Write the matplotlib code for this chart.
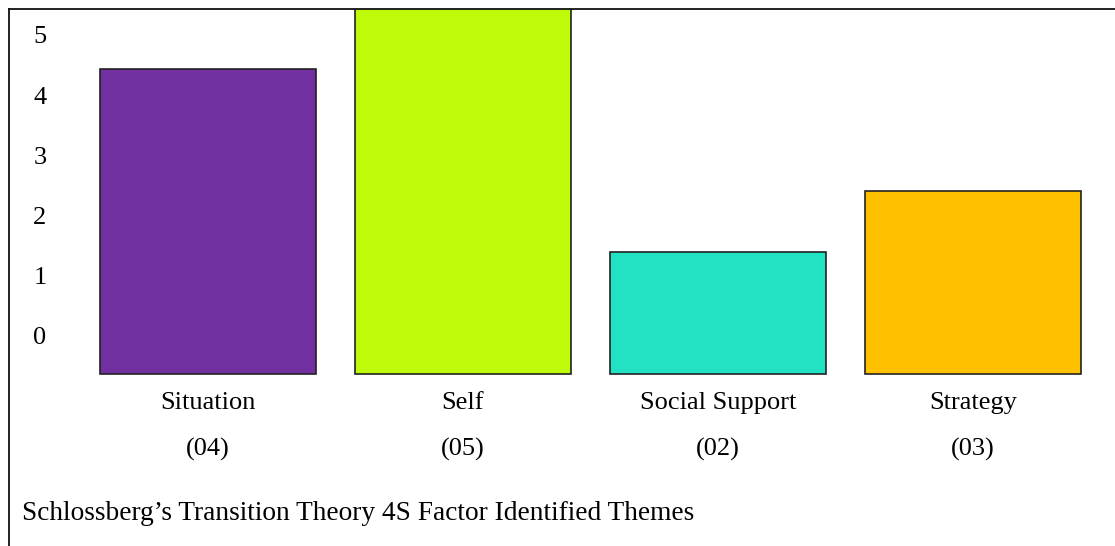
import matplotlib
matplotlib.use("Agg")
import matplotlib.pyplot as plt

categories = ["Situation", "Self", "Social Support", "Strategy"]
counts = ["04", "05", "02", "03"]
# bar tops as read against the printed y-axis labels
bar_tops = [4.44, 5.6, 1.40, 2.41]
bar_base = -0.63
colors = ["#7030A0", "#BEFA0A", "#22E2C4", "#FFC000"]
ytick_vals = [0, 1, 2, 3, 4, 5]
caption = "Schlossberg\u2019s Transition Theory 4S Factor Identified Themes"

serif = ["Liberation Serif", "DejaVu Serif"]

fig = plt.figure(figsize=(11.15, 5.46), dpi=100)
ax = fig.add_axes([9 / 1115, 0, 1 - 9 / 1115, 1 - 9 / 546])
ax.set_xlim(-0.78, 3.557)
ax.set_ylim(-3.49, 5.43)

x = list(range(len(categories)))
heights = [t - bar_base for t in bar_tops]
ax.bar(x, heights, bottom=bar_base, width=0.85, color=colors,
       edgecolor="#222222", linewidth=1.2, zorder=2)

for xi, cat, c in zip(x, categories, counts):
    ax.text(xi, -1.11, cat, ha="center", va="center", fontsize=19, family=serif)
    ax.text(xi, -1.88, f"({c})", ha="center", va="center", fontsize=19, family=serif)

ax.set_yticks(ytick_vals)
ax.set_yticklabels([str(v) for v in ytick_vals], family=serif, fontsize=19)
ax.tick_params(axis="y", length=0, pad=-27)
ax.set_xticks([])
for s in ["right", "bottom"]:
    ax.spines[s].set_visible(False)
for s in ["left", "top"]:
    ax.spines[s].set_linewidth(1.3)
    ax.spines[s].set_color("#111111")

fig.text(22 / 1115, 1 - 513 / 546, caption, ha="left", va="center",
         fontsize=19.7, family=serif)

fig.savefig("out.png", dpi=100)
